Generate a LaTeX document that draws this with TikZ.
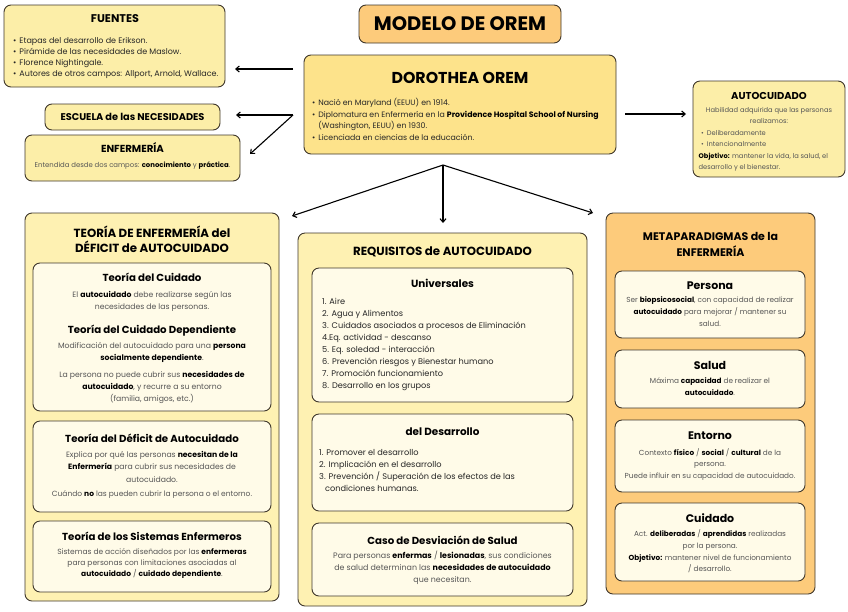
\documentclass[tikz,border=0pt]{standalone}
\usepackage{fontspec}
\setmainfont{Poppins}
\usetikzlibrary{arrows.meta,calc}
\definecolor{bordc}{HTML}{3F372B}
\definecolor{paleY}{HTML}{FCEEA8}
\definecolor{doroY}{HTML}{FDE38B}
\definecolor{orangeY}{HTML}{FDCB7B}
\definecolor{colY}{HTML}{FEF1B2}
\definecolor{creamY}{HTML}{FFFBE8}
\definecolor{txtgray}{HTML}{555555}
\newcommand\fsz[2]{\fontsize{#1}{#2}\selectfont}
\newcommand\bb[1]{\textbf{\color{black}#1}}
\begin{document}
\begin{tikzpicture}[x=1pt,y=-1pt,
  panel/.style={draw=bordc,line width=0.9pt,rounded corners=7pt,anchor=north west,inner sep=0pt,outer sep=0pt},
  ttl/.style={font=\bfseries,text=black,inner sep=0pt,align=center},
  body/.style={text=txtgray,inner sep=0pt,align=center},
  lst/.style={text=black!85,inner sep=0pt,align=left,anchor=north west},
  arr/.style={line width=1.1pt,-{Straight Barb[length=3.5pt,width=6pt]}}]
\useasboundingbox (0,0) rectangle (848,611);
\newcommand\bx[6]{\node[panel,fill=#6,minimum width={(#4-#2)*1pt},minimum height={(#5-#3)*1pt}] (#1) at (#2,#3) {};}
% ---------- top boxes
\bx{fu}{4}{5}{225}{87}{paleY}
\node[ttl,font=\bfseries\fsz{11.2}{13}] (fuT) at (115,19) {FUENTES};
\node[lst,font=\fsz{8}{11}] (fuL) at (13,36.8) {\textbullet\hspace{3pt}Etapas del desarrollo de Erikson.\\
\textbullet\hspace{3pt}Pirámide de las necesidades de Maslow.\\
\textbullet\hspace{3pt}Florence Nightingale.\\
\textbullet\hspace{3pt}Autores de otros campos: Allport, Arnold, Wallace.};

\bx{esc}{45}{104}{220}{130}{paleY}
\node[ttl,font=\bfseries\fsz{9.8}{12}] (escT) at (132.5,117) {ESCUELA de las NECESIDADES};

\bx{enf}{25}{135}{240}{181}{paleY}
\node[ttl,font=\bfseries\fsz{10.2}{12}] (enfT) at (132.5,148) {ENFERMERÍA};
\node[body,font=\fsz{6.9}{10}] (enfB) at (132.5,166) {Entendida desde dos campos: \bb{conocimiento} y \bb{práctica}.};

\bx{mod}{359}{5}{561}{43}{orangeY}
\node[ttl,font=\bfseries\fsz{19.5}{22}] (modT) at (460,24) {MODELO DE OREM};

\bx{dor}{304}{55}{616}{154}{doroY}
\node[ttl,font=\bfseries\fsz{15.8}{18}] (dorT) at (460,77.5) {DOROTHEA OREM};
\node[lst,font=\fsz{7.8}{11.4}] (dorL) at (312,97.8) {\renewcommand\arraystretch{1}%
\begin{tabular}{@{}l@{\hspace{3pt}}l@{}}
\textbullet & Nació en Maryland (EEUU) en 1914.\\
\textbullet & Diplomatura en Enfermería en la \bb{Providence Hospital School of Nursing}\\
 & (Washington, EEUU) en 1930.\\
\textbullet & Licenciada en ciencias de la educación.
\end{tabular}};

\bx{aut}{693}{81}{845}{177}{paleY}
\node[ttl,font=\bfseries\fsz{10}{11}] (autT) at (769,96) {AUTOCUIDADO};
\node[body,font=\fsz{6.7}{11}] (autB) at (769,115.5) {Habilidad adquirida que las personas\\realizamos:};
\node[lst,font=\fsz{6.7}{11},text=txtgray] (autL) at (701,130.5) {\textbullet\hspace{3pt}Deliberadamente\\\textbullet\hspace{3pt}Intencionalmente};
\node[lst,font=\fsz{6.7}{11},text=txtgray] (autO) at (698.5,153.2) {\bb{Objetivo:} mantener la vida, la salud, el\\desarrollo y el bienestar.};

% ---------- arrows
\coordinate (p1) at (293,69);
\coordinate (q1) at (235,69);
\coordinate (p2) at (293,115);
\coordinate (q2) at (236,115);
\coordinate (q3) at (250,154);
\coordinate (p4) at (625,114);
\coordinate (q4) at (686,114);
\coordinate (p5) at (443,165);
\coordinate (q5) at (292,216);
\coordinate (q6) at (443,223);
\coordinate (q7) at (593,213);
\draw[arr] (p1) -- (q1);
\draw[arr] (p2) -- (q2);
\draw[arr] (p2) -- (q3);
\draw[arr] (p4) -- (q4);
\draw[arr] (p5) -- (q5);
\draw[arr] (p5) -- (q6);
\draw[arr] (p5) -- (q7);

% ---------- left column
\bx{lc}{25}{213}{279}{601}{colY}
\node[ttl,font=\bfseries\fsz{11.8}{15}] (lcT) at (152,239.5) {TEORÍA DE ENFERMERÍA del\\DÉFICIT de AUTOCUIDADO};
\bx{l1}{33}{263}{271}{411}{creamY}
\node[ttl,font=\bfseries\fsz{10.2}{11}] (l1T) at (152,277) {Teoría del Cuidado};
\node[body,font=\fsz{7.7}{12}] (l1B) at (152,301) {El \bb{autocuidado} debe realizarse según las\\necesidades de las personas.};
\node[ttl,font=\bfseries\fsz{10.2}{11}] (l1T2) at (152,331) {Teoría del Cuidado Dependiente};
\node[body,font=\fsz{7.7}{12}] (l1B2) at (152,352) {Modificación del autocuidado para una \bb{persona}\\\bb{socialmente dependiente}.};
\node[body,font=\fsz{7.7}{12}] (l1B3) at (152,387) {La persona no puede cubrir sus \bb{necesidades de}\\\bb{autocuidado}, y recurre a su entorno\\(familia, amigos, etc.)};
\bx{l2}{33}{421}{271}{512}{creamY}
\node[ttl,font=\bfseries\fsz{10.2}{11}] (l2T) at (152,438) {Teoría del Déficit de Autocuidado};
\node[body,font=\fsz{7.7}{12.5}] (l2B) at (152,466.5) {Explica por qué las personas \bb{necesitan de la}\\\bb{Enfermería} para cubrir sus necesidades de\\autocuidado.};
\node[body,font=\fsz{7.5}{12}] (l2B2) at (152,495) {Cuándo \bb{no} las pueden cubrir la persona o el entorno.};
\bx{l3}{33}{521}{271}{592}{creamY}
\node[ttl,font=\bfseries\fsz{10.2}{11}] (l3T) at (152,536) {Teoría de los Sistemas Enfermeros};
\node[body,font=\fsz{7.5}{11}] (l3B) at (152,564) {Sistemas de acción diseñados por las \bb{enfermeras}\\para personas con limitaciones asociadas al\\\bb{autocuidado} / \bb{cuidado dependiente}.};

% ---------- middle column
\bx{mc}{298}{233}{587}{606}{colY}
\node[ttl,font=\bfseries\fsz{11.8}{13}] (mcT) at (442.5,252) {REQUISITOS de AUTOCUIDADO};
\bx{m1}{312}{268}{573}{402}{creamY}
\node[ttl,font=\bfseries\fsz{10.4}{12}] (m1T) at (442.5,283) {Universales};
\node[lst,font=\fsz{8.2}{12}] (m1L) at (322,297.8) {1. Aire\\2. Agua y Alimentos\\3. Cuidados asociados a procesos de Eliminación\\4.Eq. actividad - descanso\\5. Eq. soledad - interacción\\6. Prevención riesgos y Bienestar humano\\7. Promoción funcionamiento\\8. Desarrollo en los grupos};
\bx{m2}{312}{414}{573}{511}{creamY}
\node[ttl,font=\bfseries\fsz{10.4}{12}] (m2T) at (442.5,432) {del Desarrollo};
\node[lst,font=\fsz{8.2}{12}] (m2L) at (319,448.8) {1. Promover el desarrollo\\2. Implicación en el desarrollo\\3. Prevención / Superación de los efectos de las\\\hspace*{6pt}condiciones humanas.};
\bx{m3}{312}{523}{573}{596}{creamY}
\node[ttl,font=\bfseries\fsz{10.2}{11}] (m3T) at (442.5,540) {Caso de Desviación de Salud};
\node[body,font=\fsz{7.9}{12}] (m3B) at (442.5,568) {Para personas \bb{enfermas} / \bb{lesionadas}, sus condiciones\\de salud determinan las \bb{necesidades de autocuidado}\\que necesitan.};

% ---------- right column
\bx{rc}{606}{213}{815}{594}{orangeY}
\node[ttl,font=\bfseries\fsz{11}{16}] (rcT) at (710.5,244) {METAPARADIGMAS de la\\ENFERMERÍA};
\bx{r1}{615}{271}{805}{338}{creamY}
\node[ttl,font=\bfseries\fsz{11}{12}] (r1T) at (710,286) {Persona};
\node[body,font=\fsz{7.3}{12}] (r1B) at (710,312) {Ser \bb{biopsicosocial}, con capacidad de realizar\\\bb{autocuidado} para mejorar / mantener su\\salud.};
\bx{r2}{615}{350}{805}{408}{creamY}
\node[ttl,font=\bfseries\fsz{11}{12}] (r2T) at (710,365) {Salud};
\node[body,font=\fsz{7.3}{12}] (r2B) at (710,387) {Máxima \bb{capacidad} de realizar el\\\bb{autocuidado}.};
\bx{r3}{615}{420}{805}{492}{creamY}
\node[ttl,font=\bfseries\fsz{11}{12}] (r3T) at (710,436) {Entorno};
\node[body,font=\fsz{7.3}{11.5}] (r3B) at (710,464.5) {Contexto \bb{físico} / \bb{social} / \bb{cultural} de la\\persona.\\Puede influir en su capacidad de autocuidado.};
\bx{r4}{615}{503}{805}{581}{creamY}
\node[ttl,font=\bfseries\fsz{11}{12}] (r4T) at (710,518) {Cuidado};
\node[body,font=\fsz{7.3}{11.7}] (r4B) at (710,551.5) {Act. \bb{deliberadas} / \bb{aprendidas} realizadas\\por la persona.\\\bb{Objetivo:} mantener nivel de funcionamiento\\/ desarrollo.};
\end{tikzpicture}
\end{document}
